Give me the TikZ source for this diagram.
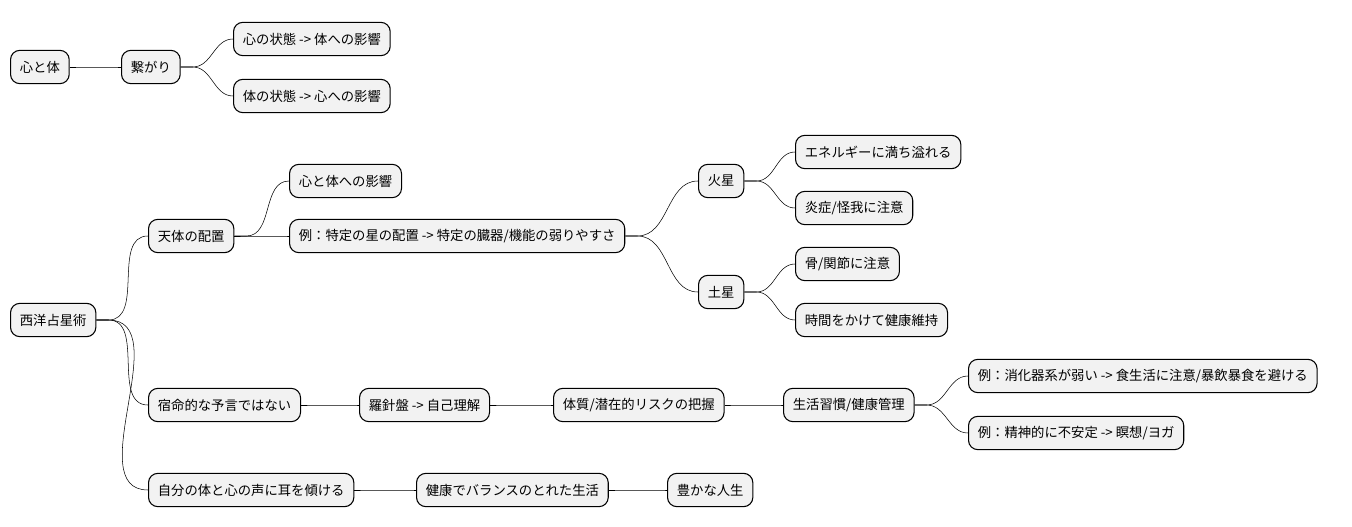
\documentclass[tikz,border=0pt]{standalone}
\usepackage{fontspec}
\setmainfont{Noto Sans CJK JP}
\usetikzlibrary{positioning}

\tikzset{
  topic/.style={draw, thick, rounded corners=7pt, fill=gray!10, anchor=west,
    minimum height=25pt, inner xsep=7pt, font=\fontsize{10}{12}\selectfont},
  link/.style={thin}
}

\begin{document}
\begin{tikzpicture}[x=0.75pt, y=-0.75pt]
\useasboundingbox (0,0) rectangle (1352,527);

% first tree
\node[topic] (kokoro) at (10,67) {心と体};
\node[topic] (tsunagari) at (121,67) {繋がり};
\node[topic] (seishin) at (233,39) {心の状態 -> 体への影響};
\node[topic] (shintai) at (233,96) {体の状態 -> 心への影響};

% second tree
\node[topic] (astro) at (10,320) {西洋占星術};
\node[topic] (haichi) at (148,236) {天体の配置};
\node[topic] (eikyo) at (289,181) {心と体への影響};
\node[topic] (rei) at (289,236) {例：特定の星の配置 -> 特定の臓器/機能の弱りやすさ};
\node[topic] (kasei) at (698,181) {火星};
\node[topic] (energy) at (795,152) {エネルギーに満ち溢れる};
\node[topic] (ensho) at (795,208) {炎症/怪我に注意};
\node[topic] (dosei) at (698,292) {土星};
\node[topic] (hone) at (795,264) {骨/関節に注意};
\node[topic] (jikan) at (795,320) {時間をかけて健康維持};
\node[topic] (yogen) at (148,405) {宿命的な予言ではない};
\node[topic] (rashin) at (359,405) {羅針盤 -> 自己理解};
\node[topic] (taishitsu) at (553,405) {体質/潜在的リスクの把握};
\node[topic] (seikatsu) at (783,405) {生活習慣/健康管理};
\node[topic] (shoka) at (968,376) {例：消化器系が弱い -> 食生活に注意/暴飲暴食を避ける};
\node[topic] (meiso) at (968,433) {例：精神的に不安定 -> 瞑想/ヨガ};
\node[topic] (koe) at (148,490) {自分の体と心の声に耳を傾ける};
\node[topic] (balance) at (416,490) {健康でバランスのとれた生活};
\node[topic] (jinsei) at (667,490) {豊かな人生};

% connectors
\foreach \p/\c in {kokoro/tsunagari, tsunagari/seishin, tsunagari/shintai,
    astro/haichi, astro/yogen, astro/koe, haichi/eikyo, haichi/rei,
    rei/kasei, rei/dosei, kasei/energy, kasei/ensho, dosei/hone, dosei/jikan,
    yogen/rashin, rashin/taishitsu, taishitsu/seikatsu, seikatsu/shoka,
    seikatsu/meiso, koe/balance, balance/jinsei}
  \draw[link] (\p.east) -- ++(12,0) to[out=0, in=180] (\c.west);

\end{tikzpicture}
\end{document}
